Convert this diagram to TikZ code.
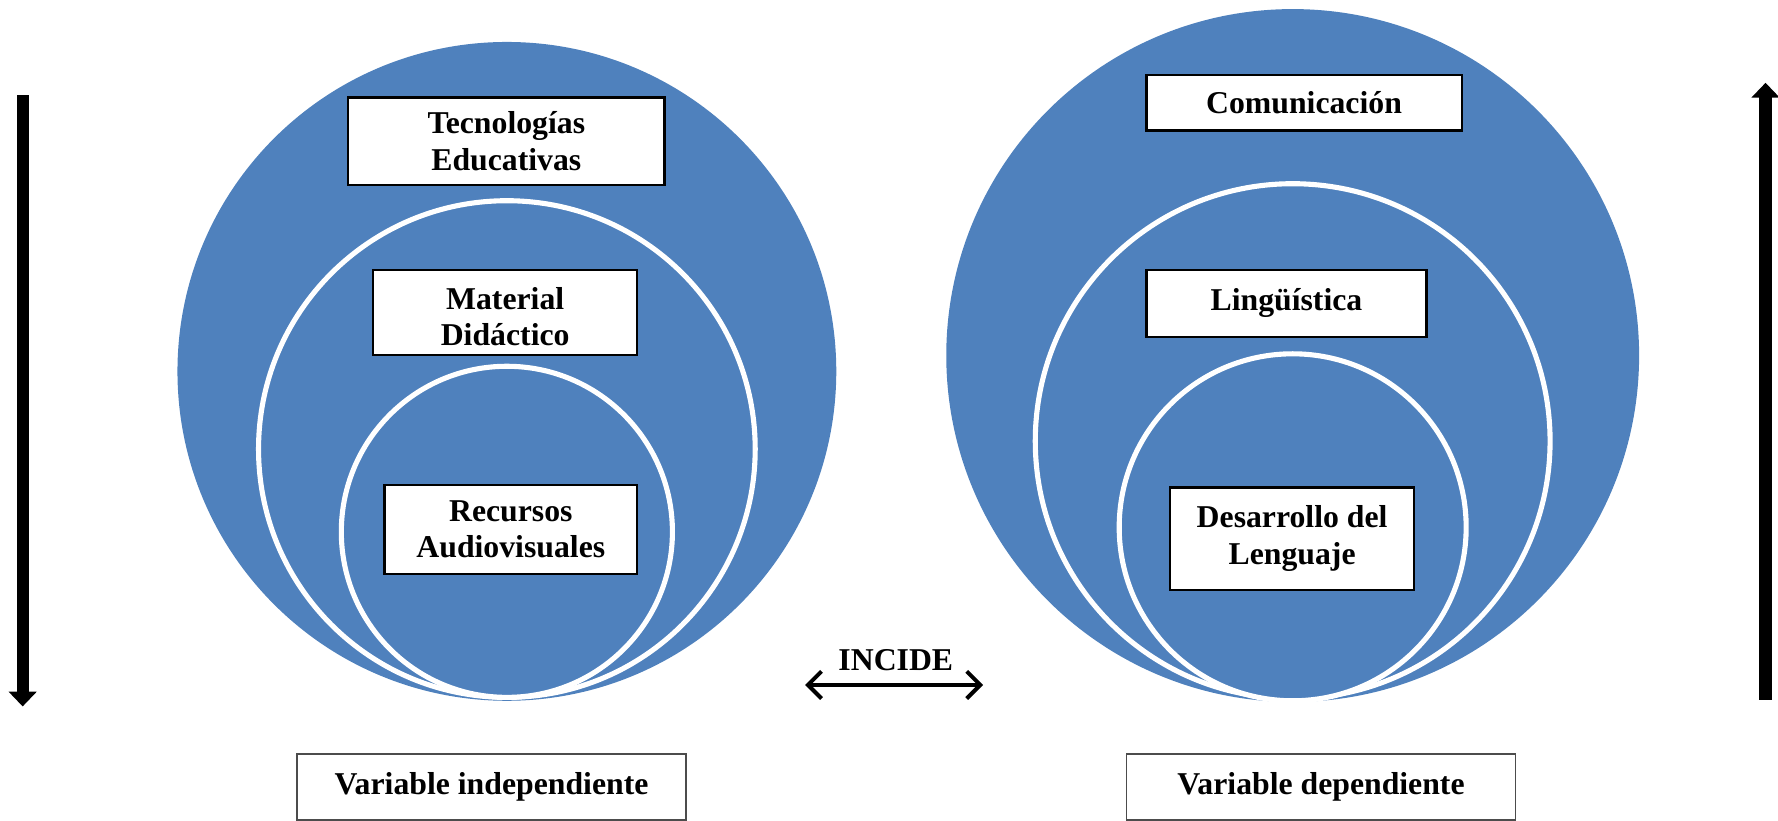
\documentclass[tikz,border=0pt]{standalone}
\usepackage{fontspec}
\setmainfont{Liberation Serif}
\usetikzlibrary{arrows.meta}
\definecolor{oblue}{HTML}{4F81BD}
\begin{document}
\begin{tikzpicture}[x=1pt,y=-1pt,
  outerc/.style={circle, fill=oblue, inner sep=0pt, minimum size=#1},
  innerc/.style={circle, fill=oblue, draw=white, line width=4.5pt, inner sep=0pt, minimum size=#1},
  lbl/.style={draw=black, line width=2pt, fill=white, align=center, inner sep=0pt,
              font=\fontsize{28}{32}\selectfont\bfseries},
  txt/.style={align=center, inner sep=0pt, font=\fontsize{28}{32}\selectfont\bfseries},
  varbox/.style={draw=black!70, line width=1.2pt, fill=white, inner sep=0pt,
              minimum width=343, minimum height=58, font=\fontsize{28}{32}\selectfont\bfseries},
  bigarrow/.style={line width=#1, -{Triangle[width=24pt,length=13pt]}}
]
\useasboundingbox (0,0) rectangle (1568,724);

% left circles
\node[outerc=581] (lo) at (447,327.5) {};
\node[innerc=438] (lm) at (447,396) {};
\node[innerc=292] (li) at (447,469) {};
% right circles
\node[outerc=611] (ro) at (1140,313.5) {};
\node[innerc=454] (rm) at (1140,389) {};
\node[innerc=306] (ri) at (1140,465) {};

% left labels
\node[lbl, minimum width=279, minimum height=77] (tec) at (446.5,124.5) {Tecnologías\\Educativas};
\node[lbl, minimum width=233, minimum height=75] (mat) at (445.5,275.5) {};
\begin{scope}
  \clip (330,239) rectangle (561,304.5);
  \node[txt] (mattxt) at (445.5,279.5) {Material\\Didáctico};
\end{scope}
\node[lbl, minimum width=223, minimum height=78] (rec) at (450.5,467) {Recursos\\Audiovisuales};

% right labels
\node[lbl, minimum width=278, minimum height=49] (com) at (1150,90.5) {Comunicación};
\node[lbl, minimum width=247, minimum height=59] (lin) at (1134.5,267.5) {Lingüística};
\node[lbl, minimum width=215, minimum height=90] (des) at (1139.5,475) {Desarrollo del\\Lenguaje};

% bottom labels
\node[varbox] (vi) at (433.5,694) {Variable independiente};
\node[varbox] (vd) at (1165,694) {Variable dependiente};

% INCIDE
\node[txt] (inc) at (790,582) {INCIDE};
\coordinate (ia) at (710,604);
\coordinate (ib) at (867,604);
\draw[line width=3.5pt, {Straight Barb[length=12pt,width=24pt]}-{Straight Barb[length=12pt,width=24pt]}] (ia) -- (ib);

% vertical arrows
\coordinate (la1) at (20,84);
\coordinate (la2) at (20,623);
\draw[bigarrow=10.5pt] (la1) -- (la2);
\coordinate (ra1) at (1557,617);
\coordinate (ra2) at (1557,73);
\draw[bigarrow=12pt] (ra1) -- (ra2);
\end{tikzpicture}
\end{document}
